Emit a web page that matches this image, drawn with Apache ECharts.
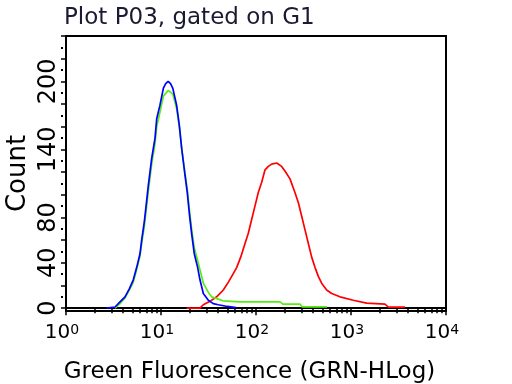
<!DOCTYPE html>
<html>
<head>
<meta charset="utf-8">
<script src="https://cdn.jsdelivr.net/npm/echarts@6/dist/echarts.min.js"></script>
<style>html,body{margin:0;padding:0;background:#fff}#c{width:512px;height:384px}</style>
</head>
<body>
<div id="c"></div>
<script>
// ---- data (x = fluorescence, y = count) ----
const blueX = [2.68,3.28,3.70,4.18,4.64,5.11,5.55,6.01,6.26,6.67,7.07,7.35,7.98,8.65,9.01,9.75,10.6,11.2,11.9,12.6,13.3,14.6,15.6,16.5,17.9,18.9,19.9,21.0,22.4,24.3,25.7,27.9,31.5,35.5,40.1,50,61.7];
const blueY = [0,1,5.5,10,17,25,36,48,60,76,95,108,132,150,167,179,194,198,200,198,194,179,161,141,117,102,83,66,48,36,25,13,7,4,3,1.5,0.5];

const greenX = [3.28,3.70,4.18,4.64,5.11,5.55,6.01,6.26,6.67,7.07,7.35,7.98,8.65,9.01,9.75,10.6,11.9,13.3,14.6,15.6,16.5,17.9,18.9,19.9,21.0,22.4,24.3,25.7,27.9,29.2,32.0,34.2,45,68,179,192,290,305,559];
const greenY = [0,4,9,16,23,34,46,57,72,90,103,127,145,160,173,187,192,189,176,160,141,119,105,87,70,53,42,34,22,19,13,10,6.5,5.6,5.6,3.6,3.6,1.2,1.2];

const redX = [18.6,25.7,27.9,32.8,38.5,45.3,51.2,55.5,62.7,69.0,76.6,83.0,89.9,97.5,105.7,114.8,124.5,134.9,146.2,165.2,186.2,201.8,228.0,257.0,279.3,302.7,328.1,355.6,385.5,417.8,452.9,490.9,554.6,626.6,765.6,1057,1462,2280,2472,3698];
const redY = [0,0,3,6,10,16,23,28,36,45,57,66,78,90,102,111,122,125,127,128,125,121,114,102,93,81,69,57,45,36,28,22,16,13,10,7,4.4,3.5,1,1];

const xMajor = [1,10,100,1000,10000];
const xMinor = [2,3,4,5,6,7,8,9,20,30,40,50,60,70,80,90,200,300,400,500,600,700,800,900,2000,3000,4000,5000,6000,7000,8000,9000];
const yMajor = [0,20,40,60,80,100,120,140,160,180,200,220,240];
const yMinor = [10,30,50,70,90,110,130,150,170,190,210,230];
const yLabels = [0,40,80,140,200];

const titleText = 'Plot P03, gated on G1';
const xName = 'Green Fluorescence (GRN-HLog)';
const yName = 'Count';

const zip = (xs, ys) => xs.map((x, i) => [x, ys[i]]);
const FONT = 'DejaVu Sans';

const chart = echarts.init(document.getElementById('c'), null, {renderer: 'canvas'});
chart.setOption({
  animation: false,
  backgroundColor: '#fff',
  title: {
    text: titleText, left: 59, top: 2,
    textStyle: {fontFamily: FONT, fontSize: 23, fontWeight: 'normal', color: '#1a1a33'}
  },
  grid: {left: 66, right: 66, top: 36, bottom: 73, show: true, borderColor: '#000', borderWidth: 2,
         containLabel: false, outerBoundsMode: 'none'},
  xAxis: [{
    type: 'log', logBase: 10, min: 1, max: 10000,
    position: 'bottom',
    axisLine: {show: true, lineStyle: {color: '#000', width: 2}},
    axisTick: {show: true, customValues: xMajor, length: 7, lineStyle: {color: '#000', width: 1.5}},
    axisLabel: {
      customValues: xMajor, margin: 12, color: '#000', fontFamily: FONT, fontSize: 20,
      padding: [0, 8, 0, 0], hideOverlap: false,
      formatter: v => '{b|10}{s|' + Math.round(Math.log10(v)) + '}',
      rich: {
        b: {fontFamily: FONT, fontSize: 20, color: '#000', verticalAlign: 'bottom'},
        s: {fontFamily: FONT, fontSize: 14, color: '#000', verticalAlign: 'top'}
      }
    },
    splitLine: {show: false},
    name: xName, nameLocation: 'middle', nameGap: 50, nameMoveOverlap: false,
    nameTextStyle: {fontFamily: FONT, fontSize: 23, color: '#000', padding: [0, 13, 0, 0]}
  }, {
    type: 'log', logBase: 10, min: 1, max: 10000,
    position: 'bottom',
    axisLine: {show: false},
    axisTick: {show: true, customValues: xMinor, length: 5, lineStyle: {color: '#000', width: 1.5}},
    axisLabel: {show: false},
    splitLine: {show: false}
  }],
  yAxis: [{
    type: 'value', min: -2.5, max: 240,
    position: 'left',
    axisLine: {show: true, lineStyle: {color: '#000', width: 2}},
    axisTick: {show: true, customValues: yMajor, length: 5, lineStyle: {color: '#000', width: 1.5}},
    axisLabel: {customValues: yLabels, rotate: 90, margin: 5, color: '#000', fontFamily: FONT, fontSize: 24, hideOverlap: false},
    splitLine: {show: false},
    name: yName, nameLocation: 'middle', nameGap: 35, nameMoveOverlap: false,
    nameTextStyle: {fontFamily: FONT, fontSize: 26, color: '#000'}
  }, {
    type: 'value', min: -2.5, max: 240,
    position: 'left', offset: 3,
    axisLine: {show: false},
    axisTick: {show: true, customValues: yMinor, length: 2, lineStyle: {color: '#000', width: 2}},
    axisLabel: {show: false},
    splitLine: {show: false}
  }],
  series: [
    {type: 'line', name: 'red', data: zip(redX, redY), showSymbol: false, symbol: 'none',
     lineStyle: {color: '#ff0000', width: 1.7}, z: 3},
    {type: 'line', name: 'green', data: zip(greenX, greenY), showSymbol: false, symbol: 'none',
     lineStyle: {color: '#55ee11', width: 1.7}, z: 4},
    {type: 'line', name: 'blue', data: zip(blueX, blueY), showSymbol: false, symbol: 'none',
     lineStyle: {color: '#0000ff', width: 1.7}, z: 5}
  ]
});
</script>
</body>
</html>
